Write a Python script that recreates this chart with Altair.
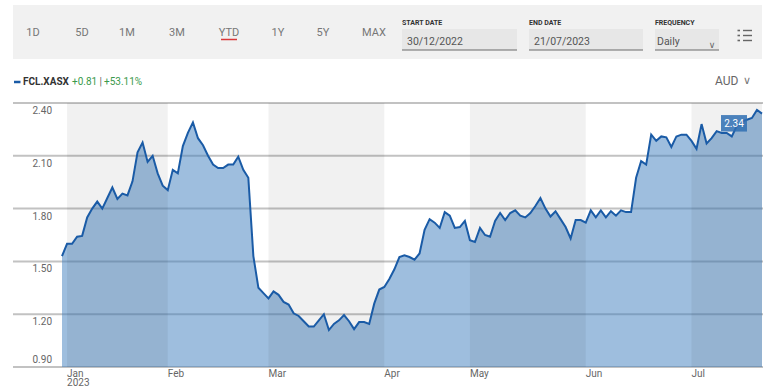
import altair as alt
import pandas as pd

# ---------------- data ----------------
values = [
    1.53, 1.60, 1.60, 1.64, 1.645, 1.75, 1.80, 1.84, 1.80, 1.86,
    1.92, 1.855, 1.885, 1.875, 1.955, 2.12, 2.175, 2.065, 2.10, 2.00,
    1.93, 1.905, 2.02, 2.00, 2.155, 2.23, 2.29, 2.20, 2.16, 2.10,
    2.05, 2.03, 2.03, 2.05, 2.05, 2.095, 2.02, 1.975, 1.53, 1.35,
    1.32, 1.29, 1.33, 1.31, 1.27, 1.255, 1.205, 1.19, 1.16, 1.13,
    1.13, 1.165, 1.20, 1.11, 1.145, 1.165, 1.195, 1.16, 1.115, 1.155,
    1.155, 1.145, 1.26, 1.34, 1.355, 1.40, 1.455, 1.525, 1.535, 1.525,
    1.51, 1.545, 1.68, 1.74, 1.72, 1.69, 1.78, 1.76, 1.69, 1.695,
    1.73, 1.62, 1.61, 1.69, 1.65, 1.64, 1.73, 1.775, 1.735, 1.775,
    1.79, 1.76, 1.75, 1.775, 1.815, 1.86, 1.80, 1.755, 1.785, 1.74,
    1.695, 1.63, 1.735, 1.735, 1.72, 1.79, 1.75, 1.79, 1.75, 1.785,
    1.76, 1.79, 1.78, 1.78, 1.975, 2.07, 2.05, 2.22, 2.185, 2.21,
    2.205, 2.15, 2.21, 2.22, 2.22, 2.185, 2.14, 2.28, 2.17, 2.20,
    2.24, 2.23, 2.23, 2.21, 2.27, 2.295, 2.305, 2.315, 2.36, 2.34,
]
month_names = ["Jan", "Feb", "Mar", "Apr", "May", "Jun", "Jul"]
month_start = [1, 21, 41, 64, 81, 104, 125]   # trading-day index of first session
last_index = len(values) - 1
y_ticks = [0.90, 1.20, 1.50, 1.80, 2.10, 2.40]
buttons = ["1D", "5D", "1M", "3M", "YTD", "1Y", "5Y", "MAX"]

df = pd.DataFrame({"idx": list(range(len(values))), "value": values})
months = pd.DataFrame({
    "name": month_names,
    "start": month_start,
    "end": month_start[1:] + [last_index],
    "shade": [i % 2 == 0 for i in range(len(month_names))],
})
ticks = pd.DataFrame({"value": y_ticks})

# ---------------- layout ----------------
L, T, W, H = 62, 103, 700, 264
FONT = "Roboto, sans-serif"
ONE = alt.Data(values=[{"a": 1}])

xs = alt.Scale(domain=[0, last_index], nice=False, zero=False)
ys = alt.Scale(domain=[0.9, 2.4], nice=False, zero=False)


def px(x):
    return alt.value(x - L)


def py(y):
    return alt.value(y - T)


def txt(s, x, y, size=11, color="#666", align="left", weight="normal", font=FONT):
    return alt.Chart(ONE).mark_text(
        text=s, align=align, baseline="middle", fontSize=size, color=color,
        fontWeight=weight, font=font,
    ).encode(x=px(x), y=py(y))


def box(x1, x2, y1, y2, fill, **kw):
    return alt.Chart(ONE).mark_rect(fill=fill, **kw).encode(
        x=px(x1), x2=px(x2), y=py(y1), y2=py(y2))


def hline(x1, x2, y, color, w):
    return alt.Chart(ONE).mark_rule(color=color, strokeWidth=w).encode(
        x=px(x1), x2=px(x2), y=py(y))


X = alt.X("idx:Q", scale=xs, axis=None)
Y = alt.Y("value:Q", scale=ys, axis=None)

grid = alt.Chart(ticks).mark_rule(color="#c2c2c2", strokeWidth=2).encode(
    y=alt.Y("value:Q", scale=ys, axis=None), x=alt.value(-49), x2=alt.value(W + 1))

area = alt.Chart(df).mark_area(color="#3d7dbe", opacity=0.5).encode(
    x=X, y=Y, y2=alt.datum(0.9))

shade = alt.Chart(months).transform_filter("datum.shade").mark_rect(
    color="#000", opacity=0.055).encode(
    x=alt.X("start:Q", scale=xs, axis=None), x2="end:Q",
    y=alt.value(0), y2=alt.value(H))

line = alt.Chart(df).mark_line(color="#1a5ba6", strokeWidth=2).encode(x=X, y=Y)

last = alt.Chart(df).transform_filter(f"datum.idx == {last_index}")
last_box = last.mark_rect(
    color="#2f6fb3", opacity=0.85, xOffset=-41, x2Offset=-15, yOffset=1.5, y2Offset=18,
).encode(x=X, x2="idx:Q", y=Y, y2="value:Q")
last_txt = last.mark_text(
    color="white", fontSize=10, font=FONT, dx=-28, dy=10, align="center", baseline="middle",
).encode(x=X, y=Y, text=alt.Text("value:Q", format=".2f"))

ylab_hi = alt.Chart(ticks).transform_filter("datum.value > 1").mark_text(
    align="right", baseline="middle", fontSize=10, color="#666", font=FONT, dy=8,
).encode(y=alt.Y("value:Q", scale=ys, axis=None), x=alt.value(-10),
         text=alt.Text("value:Q", format=".2f"))
ylab_lo = alt.Chart(ticks).transform_filter("datum.value < 1").mark_text(
    align="right", baseline="middle", fontSize=10, color="#666", font=FONT, dy=-7,
).encode(y=alt.Y("value:Q", scale=ys, axis=None), x=alt.value(-10),
         text=alt.Text("value:Q", format=".2f"))

xlab = alt.Chart(months).mark_text(
    align="left", baseline="middle", fontSize=10, color="#666", font=FONT, dx=0,
).encode(x=alt.X("start:Q", scale=xs, axis=None), y=alt.value(H + 6.5), text="name:N")
year_lab = alt.Chart(months).transform_filter("datum.name == 'Jan'").mark_text(
    align="left", baseline="middle", fontSize=10, color="#666", font=FONT, text="2023",
).encode(x=alt.X("start:Q", scale=xs, axis=None), y=alt.value(H + 16))

layers = [grid, area, shade, line, last_box, last_txt, ylab_hi, ylab_lo, xlab, year_lab]

# ---------------- toolbar ----------------
layers.append(box(13, 762, 5, 59, "#f1f1f1"))
btn_x = [33, 82, 127, 177, 229, 278, 323, 374]
for b, bx in zip(buttons, btn_x):
    layers.append(txt(b, bx, 33, size=11, color="#777", align="center"))
layers.append(hline(221, 237, 39.5, "#d9383a", 1.5))

fields = [("START DATE", "30/12/2022", 402, 517),
          ("END DATE", "21/07/2023", 529, 643),
          ("FREQUENCY", "Daily", 655, 719)]
for lab, val, x1, x2 in fields:
    layers.append(box(x1, x2, 29, 50, "#e7e7e7"))
    layers.append(hline(x1, x2, 50, "#6a6a6a", 1.2))
    layers.append(txt(lab, x1, 22.5, size=7, color="#333", weight="bold"))
    layers.append(txt(val, x1 + 5 if lab != "FREQUENCY" else x1 + 2, 42, size=10.5, color="#555"))
layers.append(txt("∨", 712, 45, size=9, color="#666", align="center", font="DejaVu Sans"))
for yy in (30.5, 35.5, 40.5):
    layers.append(hline(737.5, 740, yy, "#666", 1.6))
    layers.append(hline(743, 752, yy, "#666", 1.4))

# ---------------- legend row ----------------
layers.append(hline(14, 20.5, 82, "#1a5ba6", 2.5))
layers.append(txt("FCL.XASX", 23, 82, size=10, color="#333", weight="bold"))
layers.append(txt("+0.81", 72, 82, size=10, color="#3a9a4c"))
layers.append(txt("|", 99.5, 82, size=10, color="#666"))
layers.append(txt("+53.11%", 104, 82, size=10, color="#3a9a4c"))
layers.append(txt("AUD", 715, 81, size=12, color="#666"))
layers.append(txt("∨", 747, 81, size=11, color="#777", align="center", font="DejaVu Sans"))

chart = alt.layer(*layers).properties(
    width=W, height=H,
    padding={"left": L, "top": T, "right": 780 - L - W, "bottom": 388 - T - H},
    autosize=alt.AutoSizeParams(type="none"),
).configure_view(strokeWidth=0)

chart.save("out.html", embed_options={"renderer": "svg", "actions": False})
